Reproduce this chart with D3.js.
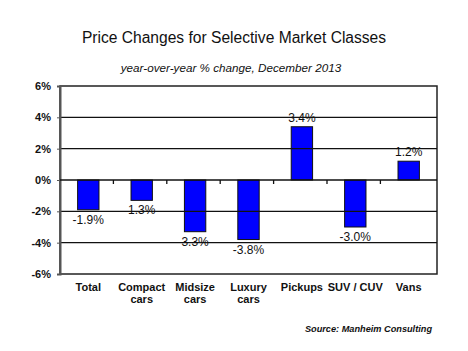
<!DOCTYPE html>
<html>
<head>
<meta charset="utf-8">
<script src="https://cdn.jsdelivr.net/npm/d3@7"></script>
<style>
  body { margin: 0; background: #fff; }
  text { font-family: "Liberation Sans", Arial, sans-serif; }
</style>
</head>
<body>
<div id="wrapper"></div>
<script>
// Chart data
const categories = [["Total"], ["Compact", "cars"], ["Midsize", "cars"], ["Luxury", "cars"], ["Pickups"], ["SUV / CUV"], ["Vans"]]
const values = [-1.9, -1.3, -3.3, -3.8, 3.4, -3.0, 1.2]
// value labels as printed on the chart
const valueLabels = ["-1.9%", "1.3%", "3.3%", "-3.8%", "3.4%", "-3.0%", "1.2%"]
const yTicks = [-6, -4, -2, 0, 2, 4, 6]

function drawChart() {
    let dimensions = {
        width: 468,
        height: 351,
        margin: { top: 86, right: 31, bottom: 77, left: 60 },
    }
    dimensions.boundedWidth = dimensions.width - dimensions.margin.left - dimensions.margin.right
    dimensions.boundedHeight = dimensions.height - dimensions.margin.top - dimensions.margin.bottom

    const wrapper = d3.select("#wrapper")
        .append("svg")
        .attr("width", dimensions.width)
        .attr("height", dimensions.height)

    // Titles
    wrapper.append("text")
        .attr("x", 234)
        .attr("y", 43)
        .attr("text-anchor", "middle")
        .style("font-size", "15.6px")
        .attr("fill", "#111")
        .text("Price Changes for Selective Market Classes")

    wrapper.append("text")
        .attr("x", 231)
        .attr("y", 72)
        .attr("text-anchor", "middle")
        .style("font-size", "11.7px")
        .style("font-style", "italic")
        .attr("fill", "#111")
        .text("year-over-year % change, December 2013")

    wrapper.append("text")
        .attr("x", 432)
        .attr("y", 332)
        .attr("text-anchor", "end")
        .style("font-size", "9.2px")
        .style("font-style", "italic")
        .style("font-weight", "bold")
        .attr("fill", "#111")
        .text("Source: Manheim Consulting")

    const bounds = wrapper.append("g")
        .attr("transform", `translate(${dimensions.margin.left},${dimensions.margin.top})`)

    const yScale = d3.scaleLinear()
        .domain([-6, 6])
        .range([dimensions.boundedHeight, 0])

    const xScale = d3.scaleBand()
        .domain(d3.range(categories.length))
        .range([0, dimensions.boundedWidth])
        .paddingInner(0.6)
        .paddingOuter(0.33)

    // Plot border
    bounds.append("rect")
        .attr("width", dimensions.boundedWidth)
        .attr("height", dimensions.boundedHeight)
        .attr("fill", "none")
        .attr("stroke", "#222")
        .attr("stroke-width", 1.5)

    // Bars
    bounds.selectAll(".bar")
        .data(values)
        .join("rect")
        .attr("class", "bar")
        .attr("x", (d, i) => xScale(i))
        .attr("width", xScale.bandwidth())
        .attr("y", d => yScale(Math.max(0, d)))
        .attr("height", d => Math.abs(yScale(d) - yScale(0)))
        .attr("fill", "#0000ff")
        .attr("stroke", "#111")
        .attr("stroke-width", 1)

    // Data labels
    bounds.selectAll(".label")
        .data(values)
        .join("text")
        .attr("class", "label")
        .attr("x", (d, i) => xScale(i) + xScale.bandwidth() / 2)
        .attr("y", d => d >= 0 ? yScale(d) - 5 : yScale(d) + 14)
        .attr("text-anchor", "middle")
        .style("font-size", "12px")
        .attr("fill", "#111")
        .text((d, i) => valueLabels[i])

    // Gridlines (drawn over the labels)
    bounds.selectAll(".grid")
        .data(yTicks.filter(t => t !== 0 && Math.abs(t) !== 6))
        .join("line")
        .attr("class", "grid")
        .attr("x1", 0)
        .attr("x2", dimensions.boundedWidth)
        .attr("y1", d => yScale(d))
        .attr("y2", d => yScale(d))
        .attr("stroke", "#111")
        .attr("stroke-width", 1.3)

    // Y axis
    const yAxisGenerator = d3.axisLeft(yScale)
        .tickValues(yTicks)
        .tickSize(3)
        .tickFormat(d => d + "%")
    const yAxis = bounds.append("g").call(yAxisGenerator)
    yAxis.select(".domain").attr("stroke", "#555").attr("stroke-width", 2)
    yAxis.selectAll(".tick line").attr("stroke", "#555")
    yAxis.selectAll(".tick text")
        .attr("x", -9)
        .style("font-size", "11px")
        .style("font-weight", "bold")
        .style("font-family", "'Liberation Sans', Arial, sans-serif")
        .attr("fill", "#111")

    // Zero line with category ticks
    bounds.append("line")
        .attr("x1", 0)
        .attr("x2", dimensions.boundedWidth)
        .attr("y1", yScale(0))
        .attr("y2", yScale(0))
        .attr("stroke", "#111")
        .attr("stroke-width", 1.3)

    const step = xScale.step()
    const offset = xScale(0) - xScale.paddingOuter() * step
    bounds.selectAll(".cat-tick")
        .data(d3.range(1, categories.length))
        .join("line")
        .attr("class", "cat-tick")
        .attr("x1", d => offset + d * step)
        .attr("x2", d => offset + d * step)
        .attr("y1", yScale(0))
        .attr("y2", yScale(0) + 4)
        .attr("stroke", "#111")
        .attr("stroke-width", 1.3)

    // Category labels
    const catLabels = bounds.selectAll(".cat")
        .data(categories)
        .join("text")
        .attr("class", "cat")
        .attr("x", (d, i) => xScale(i) + xScale.bandwidth() / 2)
        .attr("y", dimensions.boundedHeight + 17)
        .attr("text-anchor", "middle")
        .style("font-size", "11px")
        .style("font-weight", "bold")
        .attr("fill", "#111")

    catLabels.selectAll("tspan")
        .data(d => d)
        .join("tspan")
        .attr("x", function () { return d3.select(this.parentNode).attr("x") })
        .attr("dy", (d, i) => i === 0 ? 0 : 12)
        .text(d => d)
}

drawChart()
</script>
</body>
</html>
